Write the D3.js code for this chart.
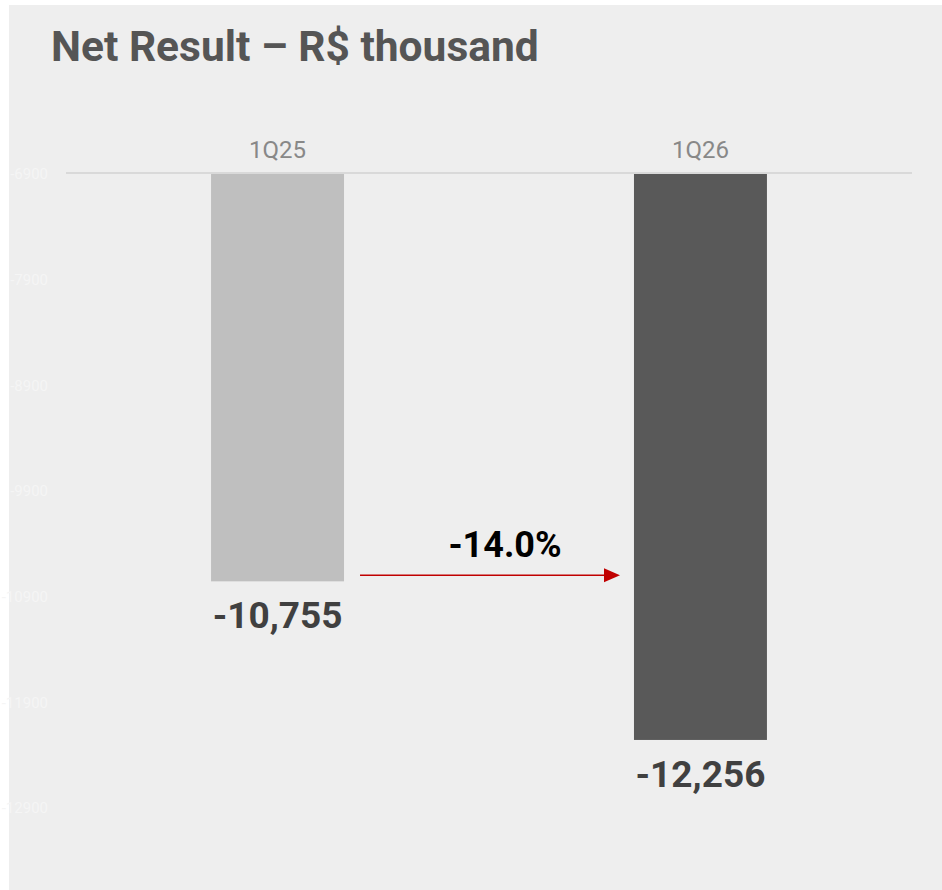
<!DOCTYPE html>
<html>
<head>
<meta charset="utf-8">
<script src="https://cdn.jsdelivr.net/npm/d3@7"></script>
<style>
  body { margin: 0; background: #fff; }
  svg { display: block; font-family: Roboto, "Noto Sans", sans-serif; }
</style>
</head>
<body>
<svg id="chart" width="942" height="890"></svg>
<script>
const categories = ["1Q25", "1Q26"];
const values = [-10755, -12256];
const valueLabels = ["-10,755", "-12,256"];
const yTicks = [-6900, -7900, -8900, -9900, -10900, -11900, -12900];
const changeLabel = "-14.0%";

const svg = d3.select("#chart");
const width = 942;
const height = 890;

// panel background
svg.append("rect")
    .attr("x", 9).attr("y", 5)
    .attr("width", width - 9).attr("height", height - 5)
    .attr("fill", "#eeeeee");

svg.append("text")
    .attr("x", 51).attr("y", 61)
    .attr("fill", "#555555")
    .attr("font-size", 42.5)
    .attr("font-weight", 700)
    .text("Net Result – R$ thousand");

const x = d3.scaleBand()
    .domain(categories)
    .range([66, 912])
    .paddingInner(0.6856)
    .paddingOuter(0.343);

const y = d3.scaleLinear()
    .domain([-6900, -12900])
    .range([174, 808]);

// faint y axis (almost invisible in the original)
const yAxis = svg.append("g")
    .attr("transform", "translate(48,0)")
    .call(d3.axisLeft(y).tickValues(yTicks).tickSize(0).tickPadding(0).tickFormat(d => d));
yAxis.select(".domain").remove();
yAxis.selectAll("text")
    .attr("fill", "#f5f5f5")
    .attr("font-size", 15)
    .attr("font-family", "Roboto, sans-serif");

// bars
const colors = ["#bfbfbf", "#595959"];
svg.append("g")
  .selectAll("rect")
  .data(categories)
  .join("rect")
    .attr("x", d => x(d))
    .attr("width", x.bandwidth())
    .attr("y", y(-6900))
    .attr("height", (d, i) => y(values[i]) - y(-6900))
    .attr("fill", (d, i) => colors[i]);

// top baseline
svg.append("line")
    .attr("x1", 66).attr("x2", 912)
    .attr("y1", y(-6900) - 1).attr("y2", y(-6900) - 1)
    .attr("stroke", "#d9d9d9")
    .attr("stroke-width", 2);

// category labels
svg.append("g")
  .selectAll("text")
  .data(categories)
  .join("text")
    .attr("x", d => x(d) + x.bandwidth() / 2)
    .attr("y", 158)
    .attr("text-anchor", "middle")
    .attr("fill", "#888888")
    .attr("font-size", 24)
    .text(d => d);

// value labels
svg.append("g")
  .selectAll("text")
  .data(categories)
  .join("text")
    .attr("x", d => x(d) + x.bandwidth() / 2)
    .attr("y", (d, i) => y(values[i]) + 47)
    .attr("text-anchor", "middle")
    .attr("fill", "#404040")
    .attr("font-size", 37)
    .attr("font-weight", 700)
    .text((d, i) => valueLabels[i]);

// change arrow
const ay = y(values[0]) - 6;
const ax1 = x(categories[0]) + x.bandwidth() + 16;
const ax2 = x(categories[1]) - 14;
svg.append("line")
    .attr("x1", ax1).attr("x2", ax2 - 12)
    .attr("y1", ay).attr("y2", ay)
    .attr("stroke", "#c00000")
    .attr("stroke-width", 1.5);
svg.append("path")
    .attr("d", `M${ax2 - 16},${ay - 7}L${ax2},${ay}L${ax2 - 16},${ay + 7}Z`)
    .attr("fill", "#c00000");

svg.append("text")
    .attr("x", 505)
    .attr("y", 557)
    .attr("text-anchor", "middle")
    .attr("fill", "#000000")
    .attr("font-size", 36)
    .attr("font-weight", 700)
    .text(changeLabel);
</script>
</body>
</html>
